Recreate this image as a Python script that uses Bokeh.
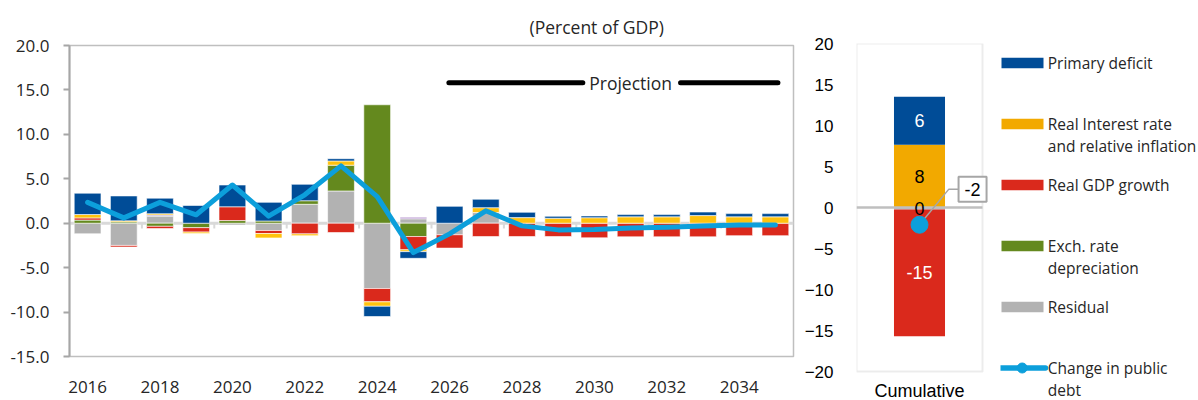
import numpy as np
from bokeh.plotting import figure
from bokeh.layouts import row
from bokeh.models import Range1d, FixedTicker, Label, Span, NumeralTickFormatter, BoxAnnotation
from bokeh.embed import file_html
from bokeh.resources import INLINE
from bokeh.core.properties import value

# ---------------- data ----------------
years = [str(y) for y in range(2016, 2036)]
primary_deficit = [2.4, 2.8, 1.75, 2.0, 2.45, 2.1, 1.85, 0.25, -1.15, -0.75,
                   1.9, 0.95, 0.6, 0.22, 0.2, 0.25, 0.25, 0.4, 0.36, 0.36]
real_interest = [0.38, 0.12, 0.15, -0.15, 0.0, -0.5, -0.2, 0.48, -0.5, -0.2,
                 0.0, 0.55, 0.63, 0.56, 0.62, 0.72, 0.72, 0.86, 0.72, 0.72]
real_gdp_growth = [0.25, -0.18, -0.25, -0.5, 1.55, -0.34, -1.2, -1.05, -1.5, -1.5,
                   -1.5, -1.5, -1.5, -1.5, -1.64, -1.53, -1.53, -1.53, -1.4, -1.4]
exch_rate = [0.35, 0.15, -0.35, -0.5, 0.3, 0.25, 0.4, 2.9, 13.33, -1.5,
             0, 0, 0, 0, 0, 0, 0, 0, 0, 0]
residual = [-1.19, -2.5, 0.8, 0.0, -0.2, -0.82, 2.13, 3.63, -7.35, 0.5,
            -1.3, 1.2, 0, 0, 0, 0, 0, 0, 0, 0]
other = [0, 0, 0.12, 0, 0, 0, 0, 0, 0, 0.17,
         0, 0, 0, 0, 0, 0, 0, 0, 0, 0]
change_in_debt = [2.35, 0.6, 2.35, 0.95, 4.3, 0.8, 3.2, 6.45, 3.0, -3.3,
                  -1.2, 1.4, -0.3, -0.75, -0.7, -0.55, -0.45, -0.3, -0.2, -0.2]

cum_category = "Cumulative"
cum_primary = 5.85
cum_interest = 7.65
cum_gdp = -15.45
cum_exch = 0.0
cum_residual = -0.25
cum_change = -2.1

legend_labels = ["Primary deficit", "Real Interest rate\nand relative inflation",
                 "Real GDP growth", "Exch. rate\ndepreciation", "Residual",
                 "Change in public\ndebt"]

y_ticks_left = [-15, -10, -5, 0, 5, 10, 15, 20]
y_ticks_right = [-20, -15, -10, -5, 0, 5, 10, 15, 20]

# ---------------- styles ----------------
BLUE = "#004C97"
YEL_L = "#FFC20E"
YEL_R = "#F2A900"
RED = "#DA291C"
GREEN = "#64891E"
GRAY = "#B2B2B2"
PURPLE = "#A77FC4"
LINE = "#0C9FDB"
FRAME = "#BFBFBF"
TXT = "#262626"
FONT = "Open Sans"
FONT2 = "Liberation Sans"

n = len(years)
xs = np.arange(n)

# ---------------- left chart ----------------
p1 = figure(width=800, height=400, x_range=Range1d(-0.5, n - 0.5), y_range=Range1d(-15, 20),
            output_backend="svg", toolbar_location=None, frame_align=False,
            min_border_left=69, min_border_right=7, min_border_top=45, min_border_bottom=44)
p1.title.text = "(Percent of GDP)"
p1.title.align = "left"
p1.title.offset = 460
p1.title.text_font = FONT
p1.title.text_font_size = "17.5px"
p1.title.text_font_style = "normal"
p1.title.text_color = TXT
p1.title.standoff = 14

p1.xgrid.visible = False
p1.ygrid.visible = False
p1.outline_line_color = FRAME
p1.outline_line_width = 1.5
p1.background_fill_color = "white"
p1.border_fill_color = "white"

p1.add_layout(Span(location=0, dimension="width", line_color="#D9D9D9", line_width=3, level="underlay"))
tick_pos = [k + 0.5 for k in range(1, n - 1, 2)]
p1.segment(x0=tick_pos, y0=[0] * len(tick_pos), x1=tick_pos, y1=[-0.6] * len(tick_pos),
           line_color="#D9D9D9", line_width=2, level="underlay")

series = [(residual, GRAY), (other, PURPLE), (exch_rate, GREEN),
          (real_gdp_growth, RED), (real_interest, YEL_L), (primary_deficit, BLUE)]
pos = np.zeros(n)
neg = np.zeros(n)
for vals, color in series:
    v = np.array(vals, dtype=float)
    bottom = np.where(v >= 0, pos, neg)
    top = bottom + v
    pos = np.where(v >= 0, top, pos)
    neg = np.where(v < 0, top, neg)
    m = v != 0
    p1.vbar(x=xs[m], bottom=bottom[m], top=top[m], width=0.74, fill_color=color,
            line_color="white", line_alpha=0.6, line_width=1)

p1.line(xs, change_in_debt, line_color=LINE, line_width=5, line_join="round", line_cap="round")

# projection marker
p1.segment(x0=[9.98, 16.38], y0=[15.8, 15.8], x1=[13.68, 19.07], y1=[15.8, 15.8],
           line_color="black", line_width=5, line_cap="round")
p1.add_layout(Label(x=15, y=15.8, text="Projection", text_align="center", text_baseline="middle",
                    text_font=FONT, text_font_size="17.5px", text_color=TXT))

ya = p1.yaxis[0]
ya.ticker = FixedTicker(ticks=y_ticks_left)
ya.formatter = NumeralTickFormatter(format="0.0")
ya.axis_line_color = "#A6A6A6"
ya.axis_line_width = 2
ya.major_tick_line_color = "#A6A6A6"
ya.major_tick_line_width = 2
ya.major_tick_out = 6
ya.major_tick_in = 0
ya.minor_tick_line_color = None
ya.major_label_standoff = 14
ya.major_label_text_font = FONT
ya.major_label_text_font_size = "17px"
ya.major_label_text_color = TXT

xa = p1.xaxis[0]
xa.ticker = FixedTicker(ticks=list(range(0, n, 2)))
xa.major_label_overrides = {i: years[i] for i in range(0, n, 2)}
xa.axis_line_color = None
xa.major_tick_line_color = None
xa.minor_tick_line_color = None
xa.major_label_standoff = 18
xa.major_label_text_font = FONT
xa.major_label_text_font_size = "17px"
xa.major_label_text_color = TXT

# ---------------- right chart (cumulative) ----------------
# frame: -20..20 spans 328 px (8.2 px per unit); extra room below/right for labels
Y_LO = 20 - 357 / 8.2
X_HI = 142 / 126
p2 = figure(width=200, height=400, x_range=Range1d(0, X_HI), y_range=Range1d(Y_LO, 20),
            output_backend="svg", toolbar_location=None, frame_align=False,
            min_border_left=56, min_border_right=2, min_border_top=43, min_border_bottom=0)
p2.xgrid.visible = False
p2.ygrid.visible = False
p2.outline_line_color = None
p2.xaxis.visible = False
p2.add_layout(BoxAnnotation(left=0, right=1, bottom=-20, top=20, fill_alpha=0,
                            line_color=FRAME, line_width=2, level="underlay"))

cum_series = [(cum_residual, GRAY, "black"), (cum_exch, GREEN, "white"), (cum_gdp, RED, "white"),
              (cum_interest, YEL_R, "black"), (cum_primary, BLUE, "white")]
cpos = 0.0
cneg = 0.0
lab_x, lab_y, lab_t, lab_c = [], [], [], []
for v, color, tcol in cum_series:
    if v == 0:
        continue
    b = cpos if v >= 0 else cneg
    t = b + v
    if v >= 0:
        cpos = t
    else:
        cneg = t
    p2.vbar(x=[0.5], bottom=[b], top=[t], width=0.405, fill_color=color, line_color=None)
    lab_x.append(0.5)
    lab_y.append((b + t) / 2)
    lab_t.append(str(int(round(v))))
    lab_c.append(tcol)

p2.segment(x0=[0], y0=[0], x1=[1], y1=[0], line_color=FRAME, line_width=2.5)
p2.text(x=lab_x, y=lab_y, text=lab_t, text_color=lab_c, text_align="center", text_baseline="middle",
        text_font=value(FONT2), text_font_size="18px")

p2.line([0.5, 0.733, 0.81], [cum_change, 2.24, 2.24], line_color="#A6A6A6", line_width=1.5)
p2.scatter(x=[0.5], y=[cum_change], size=17, fill_color=LINE, line_color=LINE)
p2.add_layout(Label(x=0.81, y=2.24, text=str(int(round(cum_change))), text_align="left",
                    text_baseline="middle", text_font=FONT2, text_font_size="18px", text_color="black",
                    border_line_color="#A6A6A6", border_line_width=2, background_fill_color="white",
                    padding=6))
p2.add_layout(Label(x=0.5, y=-20, y_offset=-19, text=cum_category, text_align="center",
                    text_baseline="middle", text_font=FONT2, text_font_size="18px", text_color="black"))

ya2 = p2.yaxis[0]
ya2.ticker = FixedTicker(ticks=y_ticks_right)
ya2.axis_line_color = None
ya2.major_tick_line_color = None
ya2.minor_tick_line_color = None
ya2.major_label_standoff = 17
ya2.major_label_text_font = FONT2
ya2.major_label_text_font_size = "17px"
ya2.major_label_text_color = "black"

# ---------------- legend panel ----------------
p3 = figure(width=198, height=400, x_range=Range1d(0, 198), y_range=Range1d(400, 0),
            output_backend="svg", toolbar_location=None, frame_align=False,
            min_border_left=0, min_border_right=0, min_border_top=0, min_border_bottom=0)
p3.axis.visible = False
p3.xgrid.visible = False
p3.ygrid.visible = False
p3.outline_line_color = None

leg_colors = [BLUE, YEL_R, RED, GREEN, GRAY]
centers = [62.5 + 61 * i for i in range(len(legend_labels))]
p3.quad(left=[1] * len(leg_colors), right=[43] * len(leg_colors),
        top=[c - 5.2 for c in centers[:len(leg_colors)]],
        bottom=[c + 5.2 for c in centers[:len(leg_colors)]],
        fill_color=leg_colors, line_color=None)
cl = centers[-1]
p3.line([-1, 45], [cl, cl], line_color=LINE, line_width=5.5, line_cap="round")
p3.scatter(x=[21.7], y=[cl], size=10, fill_color=LINE, line_color=LINE)

tx, ty, tt = [], [], []
for c, lab in zip(centers, legend_labels):
    for j, line in enumerate(lab.split("\n")):
        tx.append(47.3)
        ty.append(c + 22.3 * j)
        tt.append(line)
p3.text(x=tx, y=ty, text=tt, text_align="left", text_baseline="middle",
        text_font=value(FONT), text_font_size="15.5px", text_color=TXT)

layout = row(p1, p2, p3)
open("out.html", "w").write(file_html(layout, INLINE))
